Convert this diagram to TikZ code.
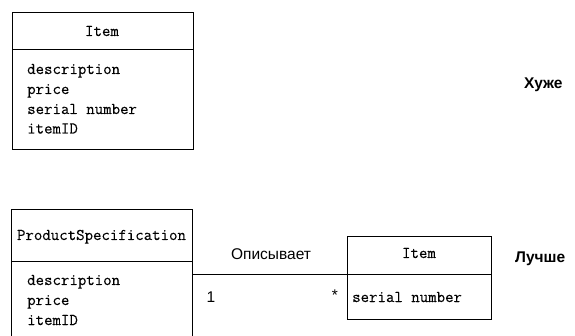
\documentclass[tikz,border=0pt]{standalone}
\usepackage{fontspec}
\setsansfont{Liberation Sans}
\newfontfamily\umlmono{Latin Modern Mono}[FakeBold=0.3]
\begin{document}
\begin{tikzpicture}[x=1pt,y=-1pt,
  box/.style={draw, line width=0.9pt, rectangle, inner sep=0pt, anchor=north west},
  attr/.style={font=\umlmono\fontsize{16.4}{20}\selectfont, inner sep=0pt, anchor=base west},
  ttl/.style={font=\umlmono\fontsize{16.4}{20}\selectfont, inner sep=0pt, anchor=base},
  lbl/.style={font=\sffamily\fontsize{15.5}{18}\selectfont, inner sep=0pt, anchor=base},
  verdict/.style={font=\sffamily\bfseries\fontsize{15.5}{18}\selectfont, inner sep=0pt, anchor=base west}]
\useasboundingbox (0,0) rectangle (575,336);

% Item class with every attribute
\node[box, minimum width=181pt, minimum height=37pt] (ihead) at (12,12) {};
\node[box, minimum width=181pt, minimum height=100pt] (ibody) at (12,49) {};
\node[ttl] (ititle) at (102,36) {Item};
\node[attr] (a1) at (27,74) {description};
\node[attr] (a2) at (27,94) {price};
\node[attr] (a3) at (27,114) {serial number};
\node[attr] (a4) at (27,133.5) {itemID};
\node[verdict] (worse) at (524,89) {Хуже};

% ProductSpecification class, running past the lower edge
\begin{scope}
\clip (0,0) rectangle (575,336);
\node[box, minimum width=181pt, minimum height=52pt] (phead) at (11,209) {};
\node[box, minimum width=181pt, minimum height=100pt] (pbody) at (11,261) {};
\end{scope}
\node[ttl] (ptitle) at (101.5,240) {ProductSpecification};
\node[attr] (p1) at (27,285) {description};
\node[attr] (p2) at (27,305) {price};
\node[attr] (p3) at (27,325) {itemID};

% Item class reduced to its own data
\node[box, minimum width=144pt, minimum height=38pt] (jhead) at (347,236) {};
\node[box, minimum width=144pt, minimum height=45pt] (jbody) at (347,274) {};
\node[ttl] (jtitle) at (419,258) {Item};
\node[attr] (j1) at (352,302) {serial number};
\node[verdict] (better) at (515,263) {Лучше};

% Association between the two classes
\draw[line width=0.9pt] (jhead.south west) -- (jhead.south west -| pbody.east);
\node[lbl] (assoc) at (271,260) {Описывает};
\node[lbl] (m1) at (211,303) {1};
\node[lbl] (m2) at (335,301) {*};
\end{tikzpicture}
\end{document}
